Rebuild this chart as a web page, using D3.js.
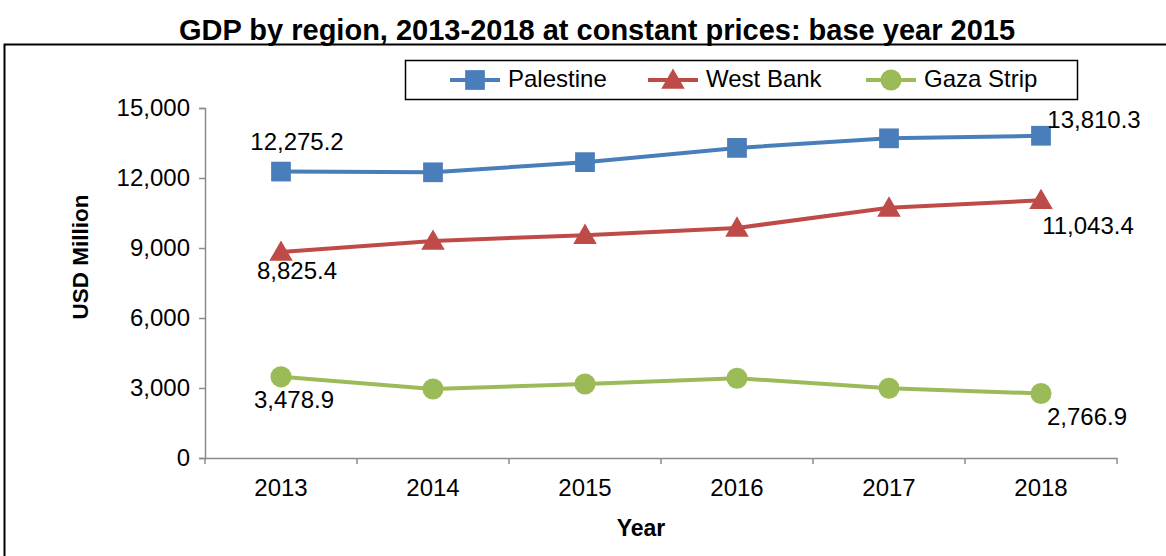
<!DOCTYPE html>
<html>
<head>
<meta charset="utf-8">
<script src="https://cdn.jsdelivr.net/npm/d3@7"></script>
<style>
  body { margin: 0; background: #fff; }
  svg { font-family: "Liberation Sans", Arial, sans-serif; }
</style>
</head>
<body>
<svg id="chart"></svg>
<script>
// data
let years = ["2013", "2014", "2015", "2016", "2017", "2018"]
let palestine = [12275.2, 12245, 12680, 13290, 13700, 13810.3]
let westBank = [8825.4, 9300, 9550, 9860, 10720, 11043.4]
let gaza = [3478.9, 2960, 3170, 3420, 2990, 2766.9]
let yTicks = [0, 3000, 6000, 9000, 12000, 15000]

let width = 1166
let height = 556

let svg = d3.select("#chart")
    .attr("width", width)
    .attr("height", height)

let series = [
    { name: "Palestine", values: palestine, color: "#4A7EBB", shape: d3.symbolSquare, size: 390 },
    { name: "West Bank", values: westBank, color: "#BE4B48", shape: d3.symbolTriangle, size: 240 },
    { name: "Gaza Strip", values: gaza, color: "#9BBB59", shape: d3.symbolCircle, size: 350 }
]

// outer frame (cut off on the right and bottom)
svg.append("rect")
    .attr("x", 4.5).attr("y", 44.5)
    .attr("width", 1200).attr("height", 600)
    .attr("fill", "none").attr("stroke", "#000").attr("stroke-width", 2)

svg.append("text")
    .attr("x", 597).attr("y", 40)
    .attr("text-anchor", "middle")
    .style("font-size", "29px").style("font-weight", "bold")
    .text("GDP by region, 2013-2018 at constant prices: base year 2015")

let xScale = d3.scaleBand().domain(years).range([205, 1117])
let yScale = d3.scaleLinear().domain([0, 15000]).range([458, 108])

// axes
let yAxis = d3.axisLeft(yScale).tickValues(yTicks).tickFormat(d3.format(",")).tickSize(6).tickPadding(9)
let gy = svg.append("g").attr("transform", "translate(205,0)").call(yAxis)
gy.selectAll("text").style("font-size", "24px").attr("fill", "#000")
gy.selectAll("line, path").attr("stroke", "#8c8c8c").attr("stroke-width", 1.5)

let xAxis = d3.axisBottom(xScale).tickSize(0).tickPadding(21)
let gx = svg.append("g").attr("transform", "translate(0,458)").call(xAxis)
gx.select("path").attr("stroke", "#8c8c8c").attr("stroke-width", 1.5)
gx.selectAll("text").style("font-size", "24px").attr("fill", "#000")
// category boundary ticks
let bounds = years.map(y => xScale(y)).concat([xScale.range()[1]])
gx.selectAll(".bnd").data(bounds).enter().append("line")
    .attr("x1", d => d).attr("x2", d => d)
    .attr("y1", 0).attr("y2", 6)
    .attr("stroke", "#8c8c8c").attr("stroke-width", 1.5)

svg.append("text")
    .attr("x", 641).attr("y", 536)
    .attr("text-anchor", "middle")
    .style("font-size", "23px").style("font-weight", "bold")
    .text("Year")

svg.append("text")
    .attr("transform", "translate(88,257) rotate(-90)")
    .attr("text-anchor", "middle")
    .style("font-size", "22.5px").style("font-weight", "bold")
    .text("USD Million")

let cx = (i) => xScale(years[i]) + xScale.bandwidth() / 2

let line = d3.line()
    .x((d, i) => cx(i))
    .y(d => yScale(d))

series.forEach(s => {
    svg.append("path")
        .datum(s.values)
        .attr("d", line)
        .attr("fill", "none")
        .attr("stroke", s.color)
        .attr("stroke-width", 4)

    svg.selectAll(null)
        .data(s.values)
        .enter()
        .append("path")
        .attr("d", d3.symbol().type(s.shape).size(s.size))
        .attr("transform", (d, i) => "translate(" + cx(i) + "," + (yScale(d) + (s.shape === d3.symbolTriangle ? 2 : 0)) + ")")
        .attr("fill", s.color)
})

// data labels on first and last points
let fmt = d3.format(",.1f")
let labels = [
    { v: palestine[0], i: 0, dx: 16, dy: -28 },
    { v: palestine[5], i: 5, dx: 53, dy: -14 },
    { v: westBank[0], i: 0, dx: 16, dy: 21 },
    { v: westBank[5], i: 5, dx: 47, dy: 27 },
    { v: gaza[0], i: 0, dx: 13, dy: 25 },
    { v: gaza[5], i: 5, dx: 46, dy: 25 }
]
svg.selectAll(".lbl")
    .data(labels)
    .enter()
    .append("text")
    .attr("x", d => cx(d.i) + d.dx)
    .attr("y", d => yScale(d.v) + d.dy)
    .attr("text-anchor", "middle")
    .attr("dominant-baseline", "middle")
    .style("font-size", "24px")
    .text(d => fmt(d.v))

// legend
svg.append("rect")
    .attr("x", 405.5).attr("y", 60.5)
    .attr("width", 672).attr("height", 39)
    .attr("fill", "#fff").attr("stroke", "#000").attr("stroke-width", 1.5)

let legendX = [450, 648, 866]
series.forEach((s, k) => {
    let g = svg.append("g").attr("transform", "translate(" + legendX[k] + ",80)")
    g.append("line").attr("x1", 0).attr("x2", 50).attr("stroke", s.color).attr("stroke-width", 4)
    g.append("path")
        .attr("d", d3.symbol().type(s.shape).size(s.size))
        .attr("transform", "translate(25," + (s.shape === d3.symbolTriangle ? 2 : 0) + ")")
        .attr("fill", s.color)
    g.append("text")
        .attr("x", 58).attr("y", 1)
        .attr("dominant-baseline", "middle")
        .style("font-size", "24px")
        .text(s.name)
})
</script>
</body>
</html>
